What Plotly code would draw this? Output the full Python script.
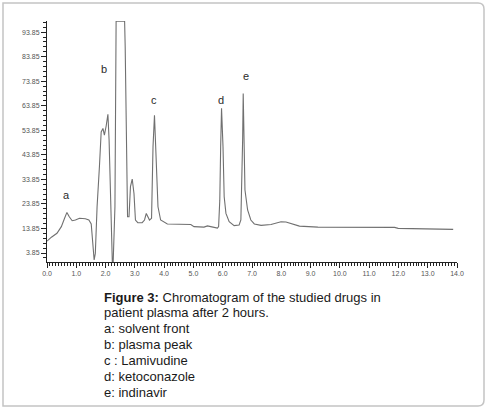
import plotly.graph_objects as go

# Retention time (min) and detector signal
rt = [0.00, 0.15, 0.34, 0.49, 0.60, 0.68, 0.76, 0.86, 0.97, 1.11,
      1.31, 1.43, 1.51, 1.56, 1.61, 1.65, 1.71, 1.79, 1.85, 1.91,
      1.96, 2.02, 2.08, 2.12, 2.17, 2.23, 2.26, 2.32, 2.36, 2.65,
      2.67, 2.69, 2.72, 2.75, 2.80, 2.85, 2.91, 2.97, 3.02, 3.10,
      3.25, 3.33, 3.39, 3.45, 3.50, 3.57, 3.62, 3.67, 3.73, 3.79,
      3.88, 4.11, 4.91, 5.02, 5.36, 5.48, 5.59, 5.71, 5.82, 5.86,
      5.90, 5.93, 5.96, 6.01, 6.05, 6.11, 6.22, 6.39, 6.56, 6.62,
      6.65, 6.68, 6.70, 6.73, 6.76, 6.85, 6.96, 7.08, 7.31, 7.65,
      7.99, 8.16, 8.39, 8.62, 9.25, 11.87, 11.99, 12.73, 12.78, 13.87]
signal = [8.7, 10.3, 11.9, 14.6, 18.0, 20.4, 18.6, 17.0, 17.3, 18.0,
          17.8, 17.3, 15.7, 7.8, 1.0, 3.7, 22.7, 39.0, 53.2, 54.6,
          51.9, 55.6, 60.4, 49.9, 25.4, 0.3, 0.3, 22.7, 98.3, 98.3,
          87.9, 66.1, 28.1, 18.6, 18.6, 30.9, 34.0, 28.1, 17.3, 16.2,
          16.2, 17.3, 20.0, 18.4, 17.3, 18.0, 47.1, 60.0, 44.4, 22.7,
          17.3, 15.7, 15.5, 14.6, 14.4, 14.9, 14.6, 14.4, 14.0, 14.6,
          25.4, 47.1, 62.8, 47.1, 26.8, 20.0, 16.6, 15.0, 15.3, 17.3,
          29.5, 49.9, 68.9, 49.9, 29.5, 21.4, 17.3, 15.7, 15.1, 15.5,
          16.6, 16.5, 15.5, 14.8, 14.4, 14.3, 13.9, 13.7, 13.5, 13.5]

peak_labels = ["a", "b", "c", "d", "e"]
peak_label_x = [0.66, 1.96, 3.65, 5.93, 6.81]
peak_label_y = [27.5, 78.8, 66.4, 66.4, 75.9]

y_tick_vals = [3.85, 13.85, 23.85, 33.85, 43.85, 53.85, 63.85, 73.85, 83.85, 93.85]
y_tick_text = ["3.85", "13.85", "23.85", "33.85", "43.85", "53.85", "63.85", "73.85", "83.85", "93.85"]
x_tick_vals = list(range(0, 15))
x_tick_text = [f"{v:.1f}" for v in x_tick_vals]

caption_lines = [
    "<b>Figure 3:</b> Chromatogram of the studied drugs in",
    "patient plasma after 2 hours.",
    "a: solvent front",
    "b: plasma peak",
    "c : Lamivudine",
    "d: ketoconazole",
    "e: indinavir",
]

fig = go.Figure()
fig.add_trace(go.Scatter(x=rt, y=signal, mode="lines",
                         line=dict(color="#707070", width=1.1),
                         hoverinfo="skip", showlegend=False))

for lab, lx, ly in zip(peak_labels, peak_label_x, peak_label_y):
    fig.add_annotation(x=lx, y=ly, xref="x", yref="y", text=lab, showarrow=False,
                       font=dict(family="Liberation Sans, Arial", size=11, color="#2a2a2a"))

# plot area: x 47..457 px, y 21..262 px
for i, line in enumerate(caption_lines):
    py = 297 + i * 15.9
    fig.add_annotation(x=0, y=0, xref="paper", yref="paper", xanchor="left", yanchor="middle",
                       xshift=102 - 47, yshift=262 - py, text=line, showarrow=False,
                       font=dict(family="Liberation Sans, Arial", size=13, color="#1a1a1a"))

# outer frame
W, H = 410.0, 241.0
def px(xp):
    return (xp - 47) / W
def py_(yp):
    return (262 - yp) / H
x0, x1, y0, y1, r = 3, 484, 3, 406, 6
path = (f"M {px(x0)},{py_(y0)} L {px(x1 - r)},{py_(y0)} "
        f"Q {px(x1)},{py_(y0)} {px(x1)},{py_(y0 + r)} "
        f"L {px(x1)},{py_(y1 - r)} Q {px(x1)},{py_(y1)} {px(x1 - r)},{py_(y1)} "
        f"L {px(x0)},{py_(y1)} Z")
fig.add_shape(type="path", path=path, xref="paper", yref="paper",
              line=dict(color="#c4c4c4", width=1.5), layer="below")

fig.update_layout(
    width=487, height=409,
    margin=dict(l=47, r=30, t=21, b=147),
    paper_bgcolor="white", plot_bgcolor="white",
    font=dict(family="Liberation Sans, Arial", color="#444"),
    hovermode=False,
    xaxis=dict(range=[0, 14.0], tickvals=x_tick_vals, ticktext=x_tick_text,
               showgrid=False, zeroline=False, showline=True, linecolor="#222", linewidth=1,
               ticks="outside", ticklen=5, tickcolor="#222", tickwidth=1,
               tickfont=dict(size=7, color="#555"),
               minor=dict(dtick=0.1, tick0=0, ticks="outside", ticklen=3, tickcolor="#222", showgrid=False)),
    yaxis=dict(range=[0.19, 98.4], tickvals=y_tick_vals, ticktext=y_tick_text,
               showgrid=False, zeroline=False, showline=True, linecolor="#222", linewidth=1,
               ticks="outside", ticklen=5, tickcolor="#222", tickwidth=1,
               tickfont=dict(size=7, color="#555"),
               minor=dict(dtick=2, tick0=3.85, ticks="outside", ticklen=3, tickcolor="#222", showgrid=False)),
)

fig.write_html("out.html", config={"displayModeBar": False, "staticPlot": True},
               post_script="document.body.style.margin='0';document.body.style.overflow='hidden';")
